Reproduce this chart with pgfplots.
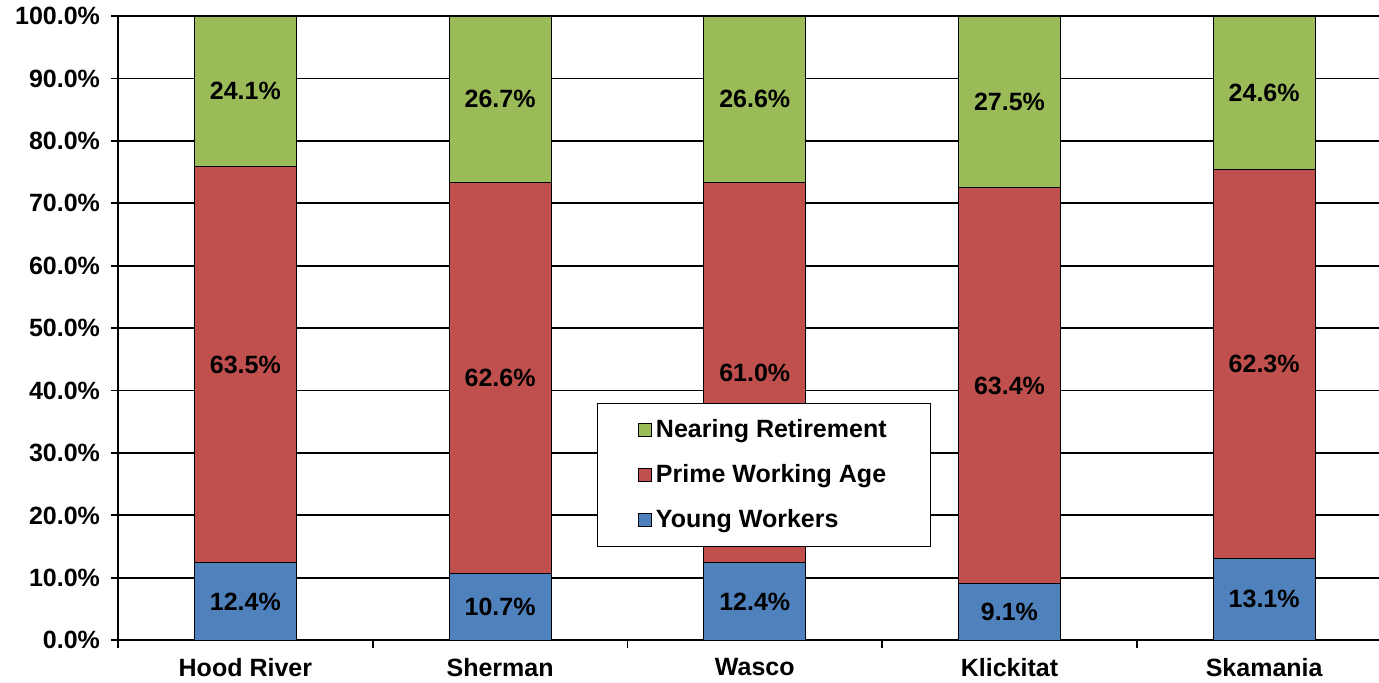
\documentclass[border=0pt]{standalone}
\usepackage{pgfplots}
\pgfplotsset{compat=1.18}
\usepackage{fontspec}
\setmainfont{Liberation Sans}

\definecolor{young}{HTML}{4F81BD}
\definecolor{prime}{HTML}{C0504D}
\definecolor{near}{HTML}{9BBB59}

\newcommand{\lbl}{\fontsize{12.5}{15}\selectfont\bfseries}

\pgfplotsset{
  base/.style={
    scale only axis,width=636.5pt,height=312pt,
    xmin=-0.5,xmax=4.5,ymin=0,ymax=100,
  }
}

\begin{document}
\begin{tikzpicture}
\begin{axis}[base,
  ybar stacked,bar width=51pt,
  axis lines=left,axis line style={-,line width=0.9pt},
  ymajorgrids,grid style={black,line width=0.9pt},
  ytick={0,10,...,100},
  yticklabel={\pgfmathprintnumber[fixed,fixed zerofill,precision=1]{\tick}\%},
  /pgf/number format/assume math mode=true,
  xtick={0,1,2,3,4},
  xticklabels={Hood River,Sherman,Wasco,Klickitat,Skamania},
  minor xtick={-0.5,0.5,1.5,2.5,3.5,4.5},
  major x tick style={draw=none},
  minor x tick style={black,line width=0.9pt},
  y tick style={black,line width=0.9pt},
  tick align=outside,major tick length=3.5pt,minor tick length=4pt,
  ticklabel style={font=\lbl},
  yticklabel style={xshift=-2pt},
  xticklabel style={yshift=-2pt},
  legend style={at={(0.3763,0.149)},anchor=south west,font=\lbl,
    draw=black,line width=0.5pt,inner xsep=20pt,inner ysep=6pt,
    row sep=8pt,cells={anchor=west}},
  reverse legend,
  legend image code/.code={\draw[#1,draw=black,line width=0.5pt] (0pt,-3.3pt) rectangle (6.6pt,3.3pt);},
]
\addplot[fill=young,draw=black,line width=0.5pt] coordinates {(0,12.4) (1,10.7) (2,12.4) (3,9.1) (4,13.1)};
\addplot[fill=prime,draw=black,line width=0.5pt] coordinates {(0,63.5) (1,62.6) (2,61.0) (3,63.4) (4,62.3)};
\addplot[fill=near,draw=black,line width=0.5pt] coordinates {(0,24.1) (1,26.7) (2,26.6) (3,27.5) (4,24.6)};
\legend{Young Workers,Prime Working Age,Nearing Retirement}
\end{axis}
\begin{axis}[base,hide axis,
  nodes near coords,point meta=explicit symbolic,
  every node near coord/.style={anchor=center,font=\lbl,black}]
\addplot[only marks,mark=none] coordinates {
  (0,6.2) [12.4\%] (1,5.35) [10.7\%] (2,6.2) [12.4\%] (3,4.55) [9.1\%] (4,6.55) [13.1\%]
  (0,44.15) [63.5\%] (1,42.0) [62.6\%] (2,42.9) [61.0\%] (3,40.8) [63.4\%] (4,44.25) [62.3\%]
  (0,87.95) [24.1\%] (1,86.65) [26.7\%] (2,86.7) [26.6\%] (3,86.25) [27.5\%] (4,87.7) [24.6\%]};
\end{axis}
\pgfresetboundingbox
\path[use as bounding box] ([xshift=-59pt,yshift=-21pt]current axis.south west) rectangle ([xshift=-6.25pt,yshift=8pt]current axis.north east);
\end{tikzpicture}
\end{document}
